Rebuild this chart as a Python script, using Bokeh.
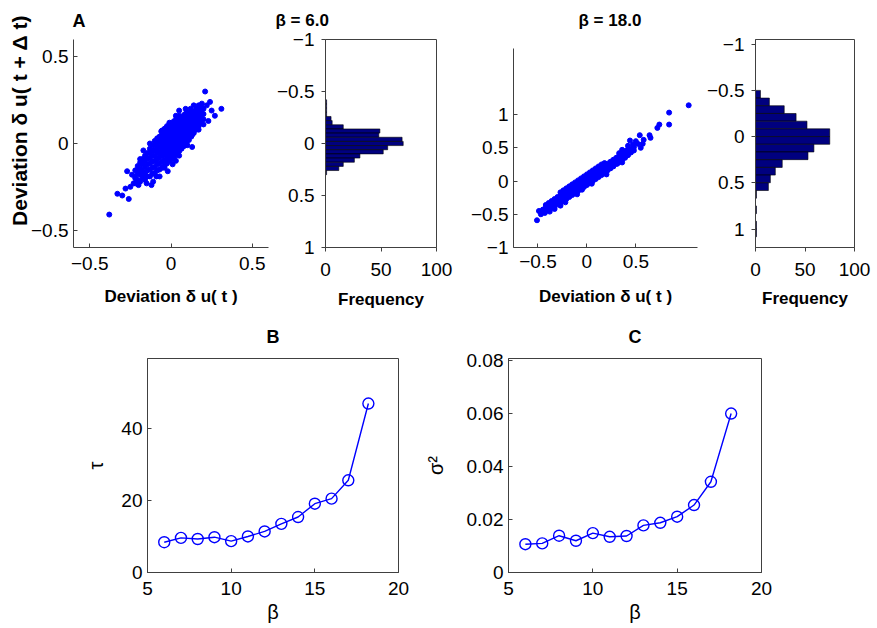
from bokeh.plotting import figure
from bokeh.models import Range1d, FixedTicker, Title
from bokeh.layouts import column, row
from bokeh.embed import file_html
from bokeh.resources import INLINE

FONT = "Liberation Sans"
BLUE = "#0000ff"
AX = "#404040"

# ---------------- data ----------------
# scatter beta = 6.0 : columns of (x, [y values])
S6_COLUMNS = [
    (-0.22, [-0.23, -0.19, -0.155]),
    (-0.205, [-0.21, -0.17, -0.13]),
    (-0.19, [-0.22, -0.18, -0.145, -0.11]),
    (-0.175, [-0.20, -0.16, -0.12, -0.09]),
    (-0.16, [-0.21, -0.17, -0.135, -0.10, -0.07]),
    (-0.145, [-0.19, -0.155, -0.12, -0.085, -0.055]),
    (-0.13, [-0.19, -0.15, -0.115, -0.085, -0.055, -0.03]),
    (-0.115, [-0.175, -0.14, -0.105, -0.07, -0.04, -0.01]),
    (-0.10, [-0.17, -0.135, -0.10, -0.07, -0.04, -0.01, 0.015]),
    (-0.085, [-0.155, -0.12, -0.09, -0.055, -0.025, 0.005, 0.03]),
    (-0.07, [-0.15, -0.115, -0.08, -0.05, -0.02, 0.01, 0.04]),
    (-0.055, [-0.14, -0.105, -0.07, -0.04, -0.01, 0.02, 0.05, 0.075]),
    (-0.04, [-0.13, -0.095, -0.06, -0.03, 0.0, 0.03, 0.06, 0.085]),
    (-0.025, [-0.115, -0.08, -0.05, -0.02, 0.01, 0.04, 0.07, 0.10]),
    (-0.01, [-0.10, -0.07, -0.04, -0.01, 0.02, 0.05, 0.08, 0.11]),
    (0.005, [-0.09, -0.06, -0.03, 0.0, 0.03, 0.06, 0.09, 0.12]),
    (0.02, [-0.075, -0.045, -0.015, 0.015, 0.045, 0.075, 0.105, 0.13]),
    (0.035, [-0.06, -0.03, 0.0, 0.03, 0.06, 0.09, 0.12, 0.15]),
    (0.05, [-0.045, -0.015, 0.015, 0.045, 0.075, 0.105, 0.135, 0.16]),
    (0.065, [-0.03, 0.0, 0.03, 0.06, 0.09, 0.12, 0.15]),
    (0.08, [-0.015, 0.015, 0.045, 0.075, 0.105, 0.135, 0.165]),
    (0.095, [0.0, 0.03, 0.06, 0.09, 0.12, 0.15, 0.18]),
    (0.11, [0.02, 0.05, 0.08, 0.11, 0.14, 0.17]),
    (0.125, [0.04, 0.07, 0.10, 0.13, 0.16, 0.19]),
    (0.14, [0.06, 0.09, 0.12, 0.15, 0.18]),
    (0.155, [0.08, 0.11, 0.14, 0.17, 0.20]),
    (0.17, [0.10, 0.13, 0.16, 0.19]),
    (0.185, [0.12, 0.15, 0.18, 0.21]),
    (0.20, [0.14, 0.17, 0.20]),
]
S6_EXTRA = [(-0.38, -0.41), (-0.33, -0.29), (-0.30, -0.30), (-0.26, -0.32), (-0.28, -0.26),
            (-0.27, -0.16), (-0.25, -0.25), (-0.23, -0.23), (-0.22, -0.20), (-0.24, -0.18),
            (-0.20, -0.24), (-0.19, -0.15), (-0.17, -0.19), (-0.15, -0.23), (-0.12, -0.24),
            (-0.11, -0.22), (-0.09, -0.19), (-0.07, -0.19), (-0.02, -0.16), (0.01, -0.12),
            (0.05, -0.07), (0.03, -0.10), (-0.04, -0.14), (0.13, -0.02), (0.10, -0.01),
            (0.13, 0.05), (-0.13, 0.00), (-0.17, -0.04), (-0.19, -0.09), (-0.06, 0.07),
            (-0.01, 0.12), (0.03, 0.16), (0.05, 0.19), (0.09, 0.20), (0.12, 0.20),
            (0.14, 0.22), (0.17, 0.22), (0.19, 0.23), (0.22, 0.22), (0.24, 0.24),
            (0.21, 0.30), (0.31, 0.20), (0.27, 0.16), (0.25, 0.19), (0.23, 0.13),
            (0.20, 0.11), (0.17, 0.08)]

# scatter beta = 18.0
S18_COLUMNS = [
    (-0.45, [-0.47, -0.43]),
    (-0.42, [-0.45, -0.40, -0.36]),
    (-0.39, [-0.43, -0.38, -0.33]),
    (-0.36, [-0.40, -0.35, -0.30]),
    (-0.33, [-0.38, -0.32, -0.27]),
    (-0.30, [-0.35, -0.29, -0.24]),
    (-0.27, [-0.33, -0.27, -0.21, -0.17]),
    (-0.24, [-0.30, -0.24, -0.19, -0.14]),
    (-0.21, [-0.27, -0.21, -0.16, -0.11]),
    (-0.18, [-0.24, -0.18, -0.13, -0.08]),
    (-0.15, [-0.21, -0.15, -0.10, -0.05]),
    (-0.12, [-0.18, -0.12, -0.07, -0.02]),
    (-0.09, [-0.15, -0.09, -0.04, 0.01]),
    (-0.06, [-0.12, -0.06, -0.01, 0.04]),
    (-0.03, [-0.09, -0.03, 0.02, 0.07]),
    (0.00, [-0.06, 0.0, 0.05, 0.10]),
    (0.03, [-0.03, 0.03, 0.08, 0.13]),
    (0.06, [0.0, 0.06, 0.11, 0.16]),
    (0.09, [0.03, 0.09, 0.14, 0.19]),
    (0.12, [0.06, 0.12, 0.17, 0.22]),
    (0.15, [0.09, 0.15, 0.20, 0.25]),
    (0.18, [0.13, 0.18, 0.23, 0.27]),
    (0.21, [0.16, 0.21, 0.26]),
    (0.24, [0.19, 0.24, 0.29]),
    (0.27, [0.22, 0.27, 0.32]),
    (0.30, [0.26, 0.31, 0.35]),
    (0.33, [0.29, 0.34, 0.38]),
    (0.36, [0.32, 0.37, 0.41]),
    (0.39, [0.35, 0.40, 0.45]),
    (0.42, [0.39, 0.44, 0.48]),
    (0.45, [0.43, 0.48]),
    (0.48, [0.46, 0.51]),
]
S18_EXTRA = [(-0.51, -0.59), (-0.49, -0.45), (-0.47, -0.50), (-0.43, -0.48), (-0.38, -0.46),
             (-0.33, -0.42), (-0.27, -0.37), (-0.22, -0.32), (-0.10, -0.20), (-0.05, -0.13),
             (0.05, -0.04), (0.20, 0.10), (0.31, 0.26), (0.36, 0.28), (0.33, 0.42),
             (0.36, 0.47), (0.42, 0.53), (0.44, 0.61), (0.47, 0.55), (0.50, 0.60),
             (0.52, 0.56), (0.55, 0.50), (0.57, 0.56), (0.54, 0.69), (0.58, 0.62),
             (0.64, 0.69), (0.65, 0.65), (0.72, 0.80), (0.74, 0.85), (0.84, 0.85),
             (0.84, 1.03), (1.04, 1.14)]

# histogram beta = 6.0 (bin centres, counts)
H6_CENTERS = [-0.40, -0.36, -0.32, -0.28, -0.24, -0.20, -0.16, -0.12, -0.08, -0.04,
              0.00, 0.04, 0.08, 0.12, 0.16, 0.20, 0.24, 0.28]
H6_COUNTS = [1, 1, 1, 1, 5, 6, 16, 49, 48, 69, 70, 56, 52, 31, 26, 16, 12, 1]
H6_WIDTH = 0.04

# histogram beta = 18.0
H18_CENTERS = [-0.458, -0.375, -0.292, -0.208, -0.125, -0.042, 0.042, 0.125, 0.208,
               0.292, 0.375, 0.458, 0.542, 0.625, 0.708, 0.792, 0.875, 0.958, 1.042]
H18_COUNTS = [5, 14, 29, 41, 52, 75, 75, 59, 53, 27, 20, 15, 13, 1, 0, 1, 0, 1, 1]
H18_WIDTH = 0.0833

# panels B and C
BETA = [6, 7, 8, 9, 10, 11, 12, 13, 14, 15, 16, 17, 18.2]
TAU = [8.4, 9.6, 9.3, 9.8, 8.7, 10.0, 11.4, 13.5, 15.4, 19.1, 20.5, 25.6, 46.9]
SIGMA2 = [0.0107, 0.0110, 0.0139, 0.0120, 0.0149, 0.0135, 0.0138, 0.0178, 0.0188,
          0.0211, 0.0255, 0.0343, 0.0601]


def flatten(cols, extra):
    xs, ys = [], []
    for x, yl in cols:
        for y in yl:
            xs.append(x)
            ys.append(y)
    for x, y in extra:
        xs.append(x)
        ys.append(y)
    return xs, ys


def lab(v):
    return ("%g" % v).replace("-", "\u2212")


def style_axis(ax, ticks, tick_in, tick_out, standoff, fs="19px"):
    ax.ticker = FixedTicker(ticks=ticks)
    ax.major_label_overrides = {t: lab(t) for t in ticks}
    ax.major_tick_in = tick_in
    ax.major_tick_out = tick_out
    ax.minor_tick_line_color = None
    ax.axis_line_color = AX
    ax.major_tick_line_color = AX
    ax.major_label_text_font = FONT
    ax.major_label_text_font_size = fs
    ax.major_label_text_color = "black"
    ax.major_label_standoff = standoff
    ax.axis_label_text_font = FONT
    ax.axis_label_text_color = "black"


def base(width, height, xr, yr, left, right, top, bottom):
    p = figure(width=width, height=height, x_range=xr, y_range=yr,
               output_backend="svg", toolbar_location=None,
               min_border_left=left, min_border_right=right,
               min_border_top=top, min_border_bottom=bottom)
    p.grid.visible = False
    p.outline_line_color = None
    p.background_fill_color = "white"
    p.border_fill_color = "white"
    return p


def set_title(p, text, align, offset, standoff, fs="17px"):
    p.title.text = text
    p.title.align = align
    p.title.offset = offset
    p.title.standoff = standoff
    p.title.vertical_align = "top"
    p.title.text_font = FONT
    p.title.text_font_size = fs
    p.title.text_font_style = "bold"
    p.title.text_color = "black"


def xlabel(p, text, fs, standoff, bold=True):
    p.xaxis.axis_label = text
    p.xaxis.axis_label_text_font_style = "bold" if bold else "normal"
    p.xaxis.axis_label_text_font_size = fs
    p.xaxis.axis_label_standoff = standoff


TOP_H, TOP_T, TOP_B = 315, 39, 68
BOT_H, BOT_T, BOT_B = 312, 43, 55

# ---------------- panel A : scatter beta 6 ----------------
s6x, s6y = flatten(S6_COLUMNS, S6_EXTRA)
p1 = base(272, TOP_H, Range1d(-0.6, 0.6), Range1d(-0.6, 0.6), 73, 4, TOP_T, TOP_B)
p1.scatter(s6x, s6y, size=5, color=BLUE)
style_axis(p1.xaxis[0], [-0.5, 0, 0.5], 4, 0, 9)
style_axis(p1.yaxis[0], [-0.5, 0, 0.5], 4, 0, 5)
xlabel(p1, "Deviation \u03b4 u( t )", "17px", 14)
set_title(p1, "A", "left", -1, 14, fs="18px")
p1.add_layout(Title(text="Deviation \u03b4 u( t + \u0394 t)", align="right", offset=-24,
                    vertical_align="bottom", standoff=-6, text_font=FONT,
                    text_font_size="21px", text_font_style="bold", text_color="black"), "left")

# ---------------- histogram beta 6 ----------------
p2 = base(188, TOP_H, Range1d(0, 100), Range1d(1, -1), 53, 24, TOP_T, TOP_B)
p2.hbar(y=H6_CENTERS, height=H6_WIDTH, left=0, right=H6_COUNTS,
        fill_color="#00007f", line_color="black", line_width=0.6)
p2.outline_line_color = AX
style_axis(p2.xaxis[0], [0, 50, 100], 0, 4, 11)
style_axis(p2.yaxis[0], [-1, -0.5, 0, 0.5, 1], 0, 4, 7)
xlabel(p2, "Frequency", "17px", 11)
set_title(p2, "\u03b2 = 6.0", "left", -50, 16)

# ---------------- scatter beta 18 ----------------
s18x, s18y = flatten(S18_COLUMNS, S18_EXTRA)
p3 = base(242, TOP_H, Range1d(-0.75, 1.13), Range1d(-1, 2.13), 53, 5, TOP_T, TOP_B)
p3.scatter(s18x, s18y, size=5, color=BLUE)
style_axis(p3.xaxis[0], [-0.5, 0, 0.5], 4, 0, 7)
style_axis(p3.yaxis[0], [-1, -0.5, 0, 0.5, 1], 4, 0, 5)
p3.yaxis.bounds = (-1, 2)
xlabel(p3, "Deviation \u03b4 u( t )", "17px", 16)
set_title(p3, "\u03b2 = 18.0", "left", 65, 16)

# ---------------- histogram beta 18 ----------------
p4 = base(174, TOP_H, Range1d(0, 100), Range1d(1.2, -1.05), 53, 22, TOP_T, TOP_B)
p4.hbar(y=H18_CENTERS, height=H18_WIDTH, left=0, right=H18_COUNTS,
        fill_color="#00007f", line_color="black", line_width=0.6)
p4.outline_line_color = AX
style_axis(p4.xaxis[0], [0, 50, 100], 0, 4, 11)
style_axis(p4.yaxis[0], [-1, -0.5, 0, 0.5, 1], 0, 4, 7)
xlabel(p4, "Frequency", "17px", 10)

# ---------------- panel B ----------------
p5 = base(420, BOT_H, Range1d(5, 20), Range1d(0, 59.4), 147, 22, BOT_T, BOT_B)
p5.line(BETA, TAU, line_color=BLUE, line_width=1.4)
p5.scatter(BETA, TAU, marker="circle", size=11, line_color=BLUE, fill_color=None, line_width=1.4)
p5.outline_line_color = AX
style_axis(p5.xaxis[0], [5, 10, 15, 20], 4, 0, 9)
style_axis(p5.yaxis[0], [0, 20, 40], 4, 0, 5)
xlabel(p5, "\u03b2", "20px", 3, bold=False)
p5.yaxis.axis_label = "\u03c4"
p5.yaxis.axis_label_text_font_size = "20px"
p5.yaxis.axis_label_text_font_style = "normal"
p5.yaxis.axis_label_standoff = 11
set_title(p5, "B", "center", 0, 20, fs="18px")

# ---------------- panel C ----------------
p6 = base(380, BOT_H, Range1d(5, 20), Range1d(0, 0.0809), 88, 39, BOT_T, BOT_B)
p6.line(BETA, SIGMA2, line_color=BLUE, line_width=1.4)
p6.scatter(BETA, SIGMA2, marker="circle", size=11, line_color=BLUE, fill_color=None, line_width=1.4)
p6.outline_line_color = AX
style_axis(p6.xaxis[0], [5, 10, 15, 20], 4, 0, 9)
style_axis(p6.yaxis[0], [0, 0.02, 0.04, 0.06, 0.08], 4, 0, 5)
xlabel(p6, "\u03b2", "20px", 3, bold=False)
p6.yaxis.axis_label = "\u03c3\u00b2"
p6.yaxis.axis_label_text_font_size = "20px"
p6.yaxis.axis_label_text_font_style = "normal"
p6.yaxis.axis_label_standoff = 17
set_title(p6, "C", "center", 0, 20, fs="18px")

layout = column(row(p1, p2, p3, p4), row(p5, p6))
open("out.html", "w").write(file_html(layout, INLINE))
